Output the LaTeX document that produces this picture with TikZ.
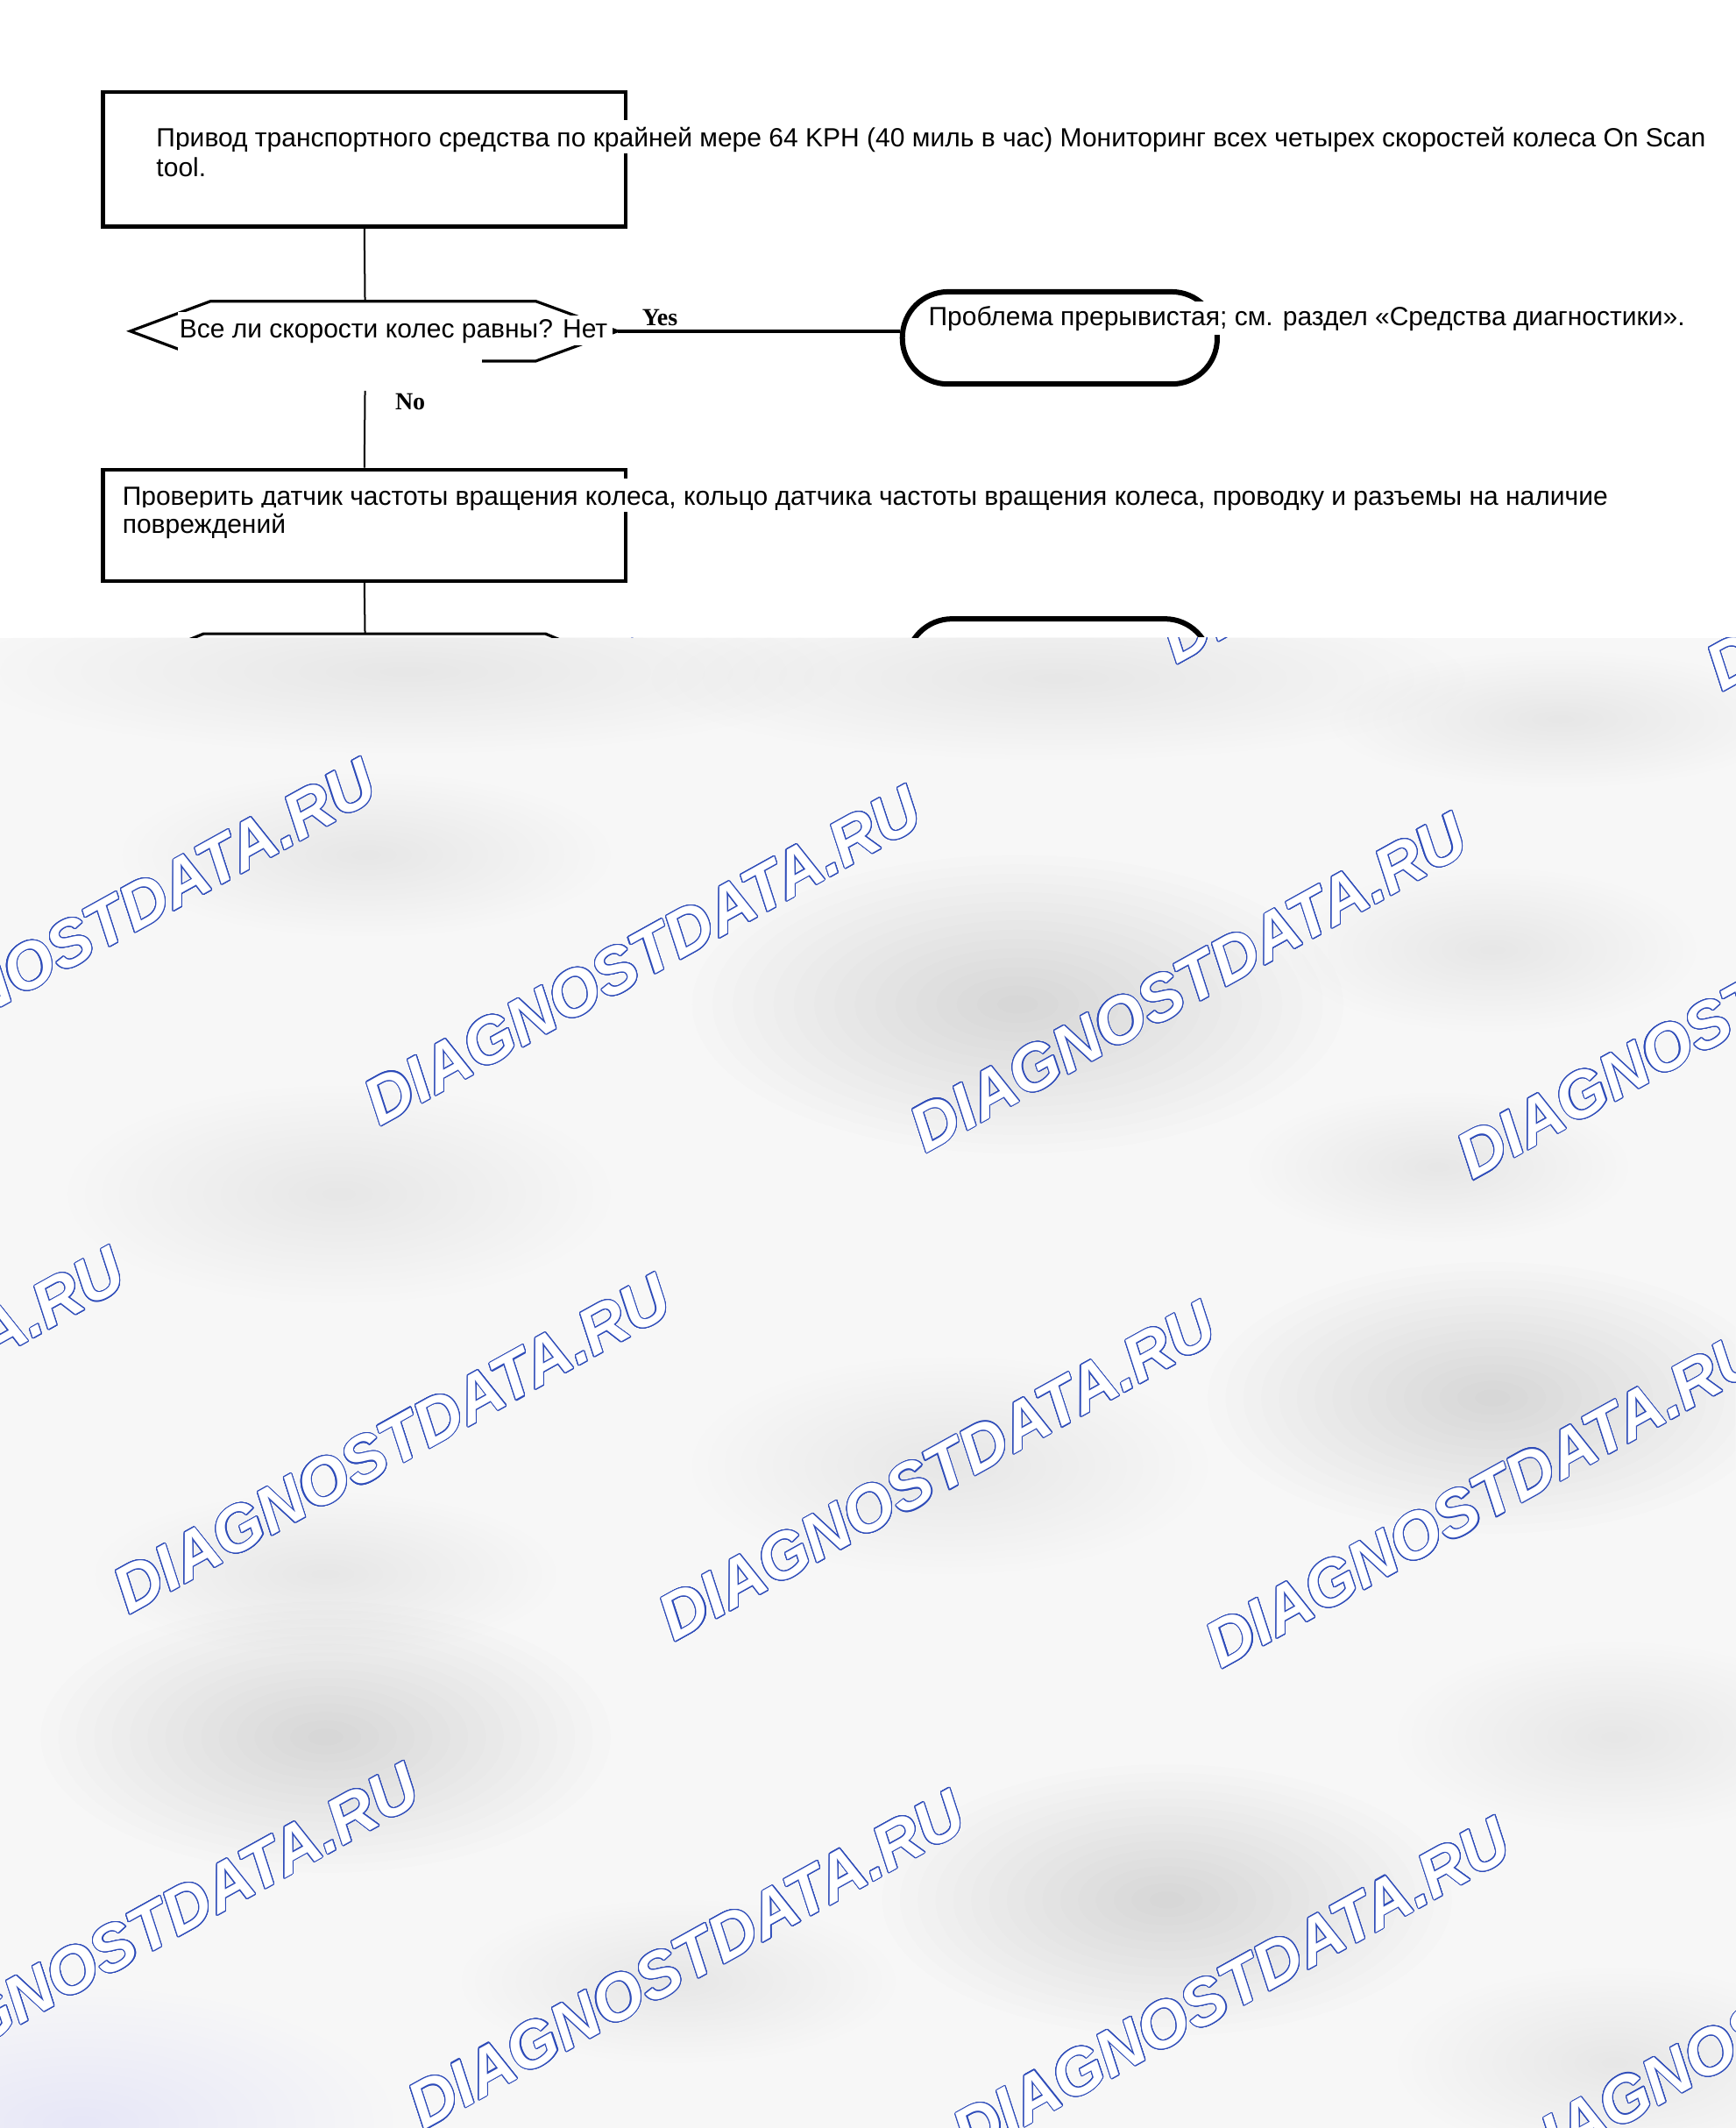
\documentclass[tikz,border=0pt]{standalone}
\usepackage{fontspec}
\setmainfont{Liberation Sans}
\newfontfamily\serfont{Liberation Serif}
\newfontfamily\wmfont{Liberation Sans}
\usepackage{contour}
\usetikzlibrary{fit}
\definecolor{wmblue}{RGB}{45,75,185}
\definecolor{wmbase}{RGB}{247,247,247}
\contourlength{0.55pt}
\contournumber{24}
\newcommand\myblob[6]{%
  \foreach \k in {1,...,16}{%
    \fill[#6, opacity=#5] (#1,#2) ellipse [x radius={#3*\k/16}, y radius={#4*\k/16}];}}
\begin{document}
\begin{tikzpicture}[x=0.77404pt,y=-0.77404pt,
  boxnode/.style={draw, inner sep=0pt, line width=2.2pt},
  termnode/.style={draw, inner sep=0pt, line width=3pt, rounded corners=26pt},
  hexline/.style={line width=1.6pt},
  conn/.style={line width=1pt},
  yesline/.style={line width=2pt},
  txtline/.style={fill=white, inner sep=0pt, anchor=base west, font=\fontsize{15}{17}\selectfont, text height=15pt, text depth=4pt},
  lbl/.style={font=\serfont\bfseries\fontsize{14}{14}\selectfont, inner sep=0pt, anchor=base west},
  wm/.style={rotate=29, anchor=base west, inner sep=0pt, text=white, font=\wmfont\bfseries\itshape\fontsize{37}{37}\selectfont}]

\useasboundingbox (0,0) rectangle (1279,1568);
\fill[white] (0,0) rectangle (1279,1568);

% ---- shapes ----
\node[boxnode, fit={(76,68) (461,167)}] (b1) {};
\coordinate (dtop) at (269,222);
\coordinate (dtip) at (455,244);
\coordinate (dbot) at (269,288);
\draw[hexline] (96,244) -- (155,222) -- (395,222) -- (dtip) -- (395,266) -- (155,266) -- cycle;
\node[termnode, fit={(665,215) (897,283)}] (t1) {};
\node[boxnode, fit={(76,346) (461,428)}] (b3) {};
\coordinate (d2top) at (269,467);
\draw[hexline] (96,489) -- (150,467) -- (402,467) -- (455,489);
\node[termnode, fit={(668,456) (892,524)}] (t2) {};

% ---- connectors ----
\draw[conn] (b1.south) -- (dtop);
\draw[yesline] (dtip) -- (dtip -| t1.west);
\draw[conn] (dbot) -- (b3.north);
\draw[conn] (b3.south) -- (d2top);

% ---- labels ----
\node[lbl] (yes) at (473,240) {Yes};
\node[lbl] (no) at (291,302) {No};

% ---- texts ----
\node[txtline] (t1a) at (115,108) {Привод транспортного средства по крайней мере 64 KPH (40 миль в час) Мониторинг всех четырех скоростей колеса On Scan};
\node[txtline] (t1b) at (115,130) {tool.};
\node[fill=white, inner sep=0pt, fit={(131,230) (355,269)}] (decbg) {};
\node[txtline, text height=13pt] (dtxt) at (132,249) {Все ли скорости колес равны? Нет\kern3pt};
\node[txtline, text height=14pt, text depth=5pt] (ttxt) at (684,240) {Проблема прерывистая; см. раздел «Средства диагностики».};
\node[txtline] (t3a) at (90,372) {Проверить датчик частоты вращения колеса, кольцо датчика частоты вращения колеса, проводку и разъемы на наличие};
\node[txtline] (t3b) at (90,393) {повреждений};

% ---- watermark overlay ----
\fill[wmbase] (0,470) rectangle (1279,1568);
\begin{scope}
\clip (0,470) rectangle (1279,1568);
\myblob{300}{495}{320}{60}{0.004}{black}
\myblob{780}{500}{300}{60}{0.004}{black}
\myblob{1150}{530}{170}{50}{0.003}{black}
\myblob{270}{630}{180}{60}{0.003}{black}
\myblob{750}{740}{240}{110}{0.006}{black}
\myblob{1100}{700}{150}{60}{0.003}{black}
\myblob{250}{880}{200}{80}{0.004}{black}
\myblob{1060}{860}{140}{55}{0.003}{black}
\myblob{1100}{1030}{210}{100}{0.006}{black}
\myblob{700}{1080}{190}{80}{0.004}{black}
\myblob{240}{1160}{170}{60}{0.003}{black}
\myblob{240}{1280}{210}{100}{0.006}{black}
\myblob{860}{1400}{210}{100}{0.006}{black}
\myblob{1190}{1280}{160}{70}{0.003}{black}
\myblob{1190}{1520}{160}{70}{0.003}{black}
\myblob{500}{1460}{160}{60}{0.003}{black}
\myblob{60}{1565}{230}{100}{0.003}{blue}
\foreach \sx/\sy in {465/470, 867/490, 1269/510,
                     -122/810, 280/830, 682/850, 1085/870,
                     -307/1170, 95/1190, 497/1210, 900/1230,
                     -90/1550, 312/1570, 714/1590, 1117/1610}{
  \node[wm] at (\sx,\sy) {\contour{wmblue}{DIAGNOSTDATA.RU}};
}
\end{scope}
\end{tikzpicture}
\end{document}
